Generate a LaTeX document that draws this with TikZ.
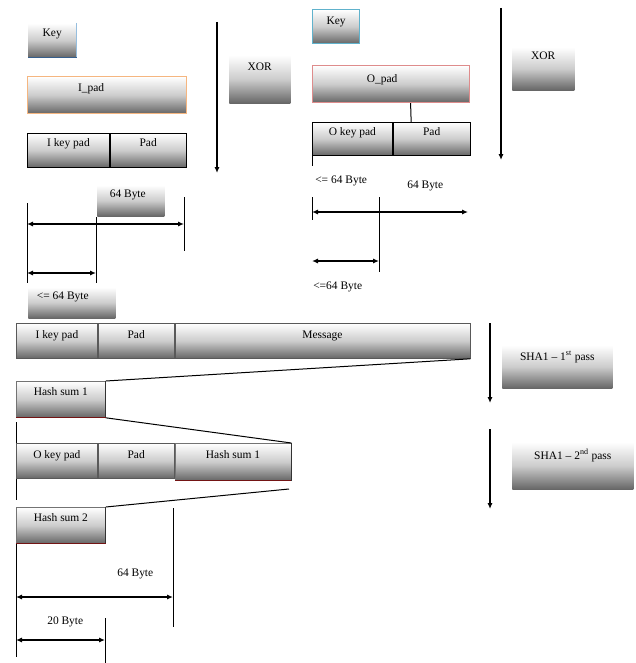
\documentclass[tikz,border=0pt]{standalone}
\usepackage{fontspec}
\setmainfont{Liberation Serif}
\usetikzlibrary{arrows.meta}
\definecolor{ipadorange}{RGB}{245,182,128}
\definecolor{opadpink}{RGB}{222,140,140}
\definecolor{keyteal}{RGB}{96,178,204}
\definecolor{keylight}{RGB}{150,190,222}
\definecolor{keydark}{RGB}{55,95,140}
\definecolor{hashred}{RGB}{115,20,20}
\tikzset{
  shadedbox/.style={rectangle, inner sep=0pt, anchor=north west,
    top color=white, bottom color=black!60, middle color=black!20},
  sz/.style 2 args={minimum width=#1*0.75pt, minimum height=#2*0.75pt},
  boxtext/.style n args={3}{label={[anchor=base, xshift=#3*0.75pt, yshift=-#2*0.75pt, inner sep=0pt]north:{#1}}},
  cellline/.style={draw=black, line width=0.6pt},
  rowline/.style={draw=black!65, line width=0.6pt},
  plain/.style={anchor=base west, inner sep=0pt},
  tick/.style={draw=black, line width=0.75pt},
  tipshape/.tip={Latex[length=4.5pt,width=3.8pt]},
  flow/.style={draw=black, line width=1.1pt, -tipshape},
  dim/.style={draw=black, line width=1.1pt, tipshape-tipshape},
  fan/.style={draw=black, line width=0.75pt},
  hashedge/.style={draw=hashred, line width=0.9pt},
}
\begin{document}
\begin{tikzpicture}[x=0.75pt, y=-0.75pt, font=\fontsize{8.6}{10}\selectfont]
\useasboundingbox (0,0) rectangle (635,663);

% ---------- inner pad ----------
\node[shadedbox, sz={48}{34}, boxtext={Key}{14}{0}] (keyA) at (28,23) {};
\draw[keylight, line width=0.75pt] (keyA.north east) -- (keyA.south east);
\draw[keydark, line width=0.9pt] (keyA.south west) -- (keyA.south east);

\node[shadedbox, sz={159}{37}, draw=ipadorange, line width=0.9pt,
      boxtext={I\_pad}{15.5}{-16}] (ipad) at (27,76) {};

\node[shadedbox, cellline, sz={82}{34}, boxtext={I key pad}{13.5}{0}] (ikey) at (27,133) {};
\node[shadedbox, cellline, sz={76}{34}, boxtext={Pad}{13.5}{0}] (ipadr) at (ikey.north east) {};

\coordinate (xorAtop) at (217,22);
\coordinate (xorAbot) at (217,173);
\draw[flow] (xorAtop) -- (xorAbot);
\node[shadedbox, sz={61}{48}, boxtext={XOR}{15.5}{0}] (xorA) at (229,55) {};

\node[shadedbox, sz={67}{31}, boxtext={64 Byte}{12.5}{-3}] (b64A) at (97,185) {};
\node[shadedbox, sz={87}{31}, boxtext={<= 64 Byte}{12.5}{-9}] (le64A) at (28,287) {};

\coordinate (tA1a) at (27,203);  \coordinate (tA1b) at (27,283);
\coordinate (tA2a) at (96,217);  \coordinate (tA2b) at (96,283);
\coordinate (tA3a) at (184,197); \coordinate (tA3b) at (184,251);
\draw[tick] (tA1a) -- (tA1b);
\draw[tick] (tA2a) -- (tA2b);
\draw[tick] (tA3a) -- (tA3b);
\coordinate (dA1l) at (27,224); \coordinate (dA1r) at (184,224);
\coordinate (dA2l) at (27,273); \coordinate (dA2r) at (96,273);
\draw[dim] (dA1l) -- (dA1r);
\draw[dim] (dA2l) -- (dA2r);

% ---------- outer pad ----------
\node[shadedbox, sz={47}{34}, draw=keyteal, line width=0.9pt, boxtext={Key}{15.5}{0}] (keyB) at (312,9) {};
\node[shadedbox, sz={157}{37}, draw=opadpink, line width=0.9pt,
      boxtext={O\_pad}{17.5}{-9}] (opad) at (312,65) {};
\node[shadedbox, cellline, sz={80}{33}, boxtext={O key pad}{13.5}{0}] (okey) at (312,122) {};
\node[shadedbox, cellline, sz={77}{33}, boxtext={Pad}{13.5}{0}] (opadr) at (okey.north east) {};
\draw[tick] ([xshift=14.6pt]opad.south) -- ([xshift=-15.4pt]opadr.north);

\coordinate (xorBtop) at (501,8);
\coordinate (xorBbot) at (501,160);
\draw[flow] (xorBtop) -- (xorBbot);
\node[shadedbox, sz={62}{43}, boxtext={XOR}{12.5}{0}] (xorB) at (512,47) {};

\coordinate (tB0b) at (312,166);
\draw[tick] (okey.south west) -- (tB0b);
\node[plain] (le64B) at (315,183.6) {<= 64 Byte};
\node[plain] (b64B) at (407,188.6) {64 Byte};
\coordinate (tB1a) at (312,197); \coordinate (tB1b) at (312,220);
\coordinate (tB2a) at (379,197); \coordinate (tB2b) at (379,272);
\draw[tick] (tB1a) -- (tB1b);
\draw[tick] (tB2a) -- (tB2b);
\coordinate (dB1l) at (312,212); \coordinate (dB1r) at (468,212);
\coordinate (dB2l) at (312,261); \coordinate (dB2r) at (379,261);
\draw[dim] (dB1l) -- (dB1r);
\draw[dim] (dB2l) -- (dB2r);
\node[plain] (le64C) at (313,289.6) {<=64 Byte};

% ---------- first pass ----------
\node[shadedbox, rowline, sz={81}{35}, boxtext={I key pad}{15.5}{0}] (r1a) at (16,323) {};
\node[shadedbox, rowline, sz={76}{35}, boxtext={Pad}{15.5}{0}] (r1b) at (r1a.north east) {};
\node[shadedbox, rowline, sz={295}{35}, boxtext={Message}{15.5}{0}] (r1c) at (r1b.north east) {};

\node[shadedbox, draw=black!55, line width=0.6pt, sz={89}{36}, boxtext={Hash sum 1}{14.5}{0}] (hs1) at (16,381) {};
\draw[black!80, line width=0.75pt] (hs1.north east) -- (hs1.south east);
\draw[hashedge] (hs1.south east) -- (hs1.south west);
\draw[fan] (r1c.south east) -- (hs1.north east);

\coordinate (sA1) at (490,323); \coordinate (sA2) at (490,403);
\draw[flow] (sA1) -- (sA2);
\node[shadedbox, sz={110}{43}, boxtext={SHA1 -- 1\textsuperscript{st} pass}{15.5}{0}] (sha1) at (502,345) {};

% ---------- second pass ----------
\coordinate (lv1a) at (16,422);
\coordinate (lv1b) at (16,443);
\draw[tick] (lv1a) -- (lv1b);
\node[shadedbox, rowline, sz={81}{35}, boxtext={O key pad}{15.5}{0}] (r2a) at (16,443) {};
\node[shadedbox, rowline, sz={76}{35}, boxtext={Pad}{15.5}{0}] (r2b) at (r2a.north east) {};
\node[shadedbox, draw=black!55, line width=0.6pt, sz={116}{37}, boxtext={Hash sum 1}{15.5}{0}] (r2c) at (r2b.north east) {};
\draw[black!80, line width=0.75pt] (r2c.north east) -- (r2c.south east);
\draw[hashedge] (r2c.south east) -- (r2c.south west);
\draw[fan] (hs1.south east) -- (r2c.north east);

\coordinate (lv2b) at (16,500);
\draw[tick] (r2a.south west) -- (lv2b);

\node[shadedbox, draw=black!55, line width=0.6pt, sz={89}{36}, boxtext={Hash sum 2}{14.5}{0}] (hs2) at (16,507) {};
\draw[black!80, line width=0.75pt] (hs2.north east) -- (hs2.south east);
\draw[hashedge] (hs2.south east) -- (hs2.south west);
\coordinate (fanend) at (289,489);
\draw[fan] (fanend) -- (hs2.north east);

\coordinate (sB1) at (490,429); \coordinate (sB2) at (490,509);
\draw[flow] (sB1) -- (sB2);
\node[shadedbox, sz={121}{47}, boxtext={SHA1 -- 2\textsuperscript{nd} pass}{17.5}{0}] (sha2) at (512,442) {};

% ---------- result sizes ----------
\coordinate (lv3b) at (16,657);
\draw[tick] (hs2.south west) -- (lv3b);
\coordinate (tC1a) at (173,508); \coordinate (tC1b) at (173,627);
\draw[tick] (tC1a) -- (tC1b);
\node[plain] (b64C) at (117,576.6) {64 Byte};
\coordinate (dC1l) at (16,597); \coordinate (dC1r) at (173,597);
\draw[dim] (dC1l) -- (dC1r);
\node[plain] (b20C) at (47,624.6) {20 Byte};
\coordinate (tC2a) at (105,618); \coordinate (tC2b) at (105,663);
\draw[tick] (tC2a) -- (tC2b);
\coordinate (dC2l) at (16,640); \coordinate (dC2r) at (105,640);
\draw[dim] (dC2l) -- (dC2r);
\end{tikzpicture}
\end{document}
